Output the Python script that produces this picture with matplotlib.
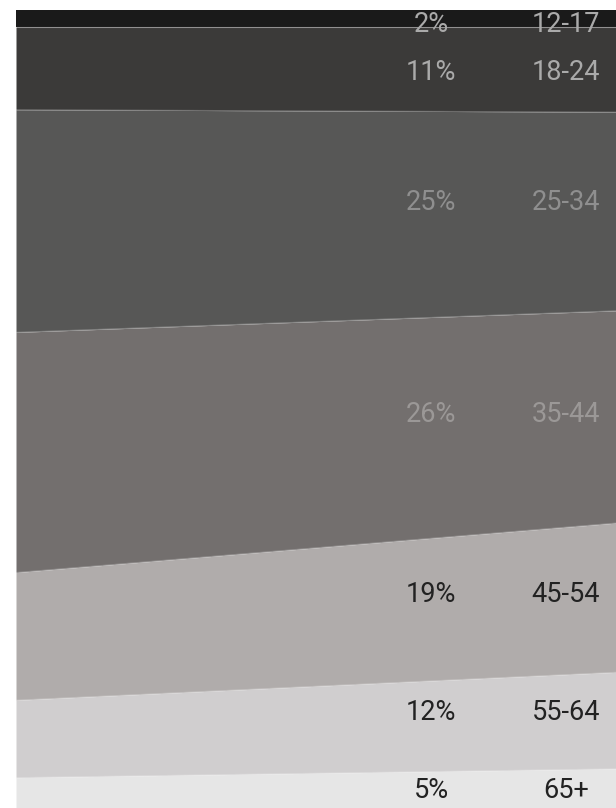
import matplotlib
matplotlib.use("Agg")
import matplotlib.pyplot as plt
import numpy as np

# Data
age_groups = ["12-17", "18-24", "25-34", "35-44", "45-54", "55-64", "65+"]
share_start = [2.1, 10.4, 27.9, 30.1, 16.0, 9.7, 3.8]   # left edge (%)
share_end = [2.1, 10.7, 24.9, 26.6, 18.7, 12.1, 4.9]    # right edge (%)
share_labels = ["2%", "11%", "25%", "26%", "19%", "12%", "5%"]
x_points = [0, 1]

band_colors = ["#1a1a1a", "#3b3a39", "#575756", "#736f6e", "#b0acab", "#d0cecf", "#e6e6e6"]
label_colors = ["#aaaaaa", "#aaaaaa", "#8f8f8f", "#9b9897", "#222222", "#222222", "#222222"]
label_y_px = [25, 72, 203, 415, 595, 712, 790]

W, H = 616, 808
fig = plt.figure(figsize=(W / 100, H / 100), dpi=100)
fig.patch.set_facecolor("white")
ax = fig.add_axes([16 / W, 0, 600 / W, 798 / H])

vals = np.array([share_start, share_end]).T  # shape (7, 2)
bottom = np.zeros(2)
for i, v in enumerate(vals):
    top = bottom + v
    ax.fill_between(x_points, bottom, top, color=band_colors[i], linewidth=0, zorder=1)
    if i > 0:
        ax.plot(x_points, bottom, color="white", alpha=0.25, linewidth=0.8, zorder=2)
    bottom = top

ax.set_xlim(0, 1)
ax.set_ylim(100, 0)
ax.axis("off")

font = ["Roboto", "DejaVu Sans"]
for i in range(len(age_groups)):
    ypix = label_y_px[i]
    yfig = 1 - ypix / H
    fig.text(431 / W, yfig, share_labels[i], ha="center", va="center",
             fontsize=19.5, color=label_colors[i], family=font)
    fig.text(566 / W, yfig, age_groups[i], ha="center", va="center",
             fontsize=19.5, color=label_colors[i], family=font)

fig.savefig("out.png", dpi=100)
